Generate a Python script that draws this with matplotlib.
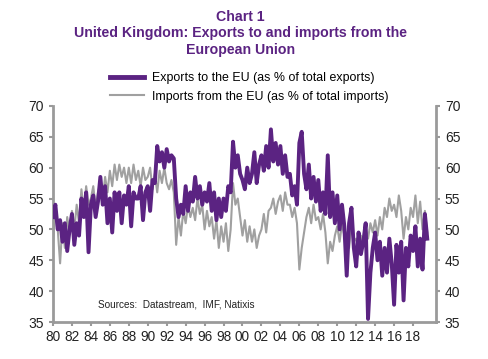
import matplotlib.pyplot as plt
import numpy as np

plt.rcParams['font.family'] = ['Liberation Sans', 'DejaVu Sans']

# quarterly readings, 1980 Q1 onwards
exports = [52, 54, 50, 51.5,  48, 51, 46.5, 50,  52.5, 47.5, 51, 49,  55, 52, 56, 46.3,
           54, 55.5, 52, 54.5,  58.5, 54, 57, 51,  55, 49.5, 56, 53,  56, 51, 55.5, 54,
           57, 50.5, 56, 55,  55, 57, 51.5, 56,  57, 53, 58, 57.5,  63.5, 61, 62.5, 60,
           63, 61, 62, 61.5,  55, 52, 54, 52.5,  57, 53, 56, 54.5,  58.5, 55, 57, 54,
           56, 54.5, 57.5, 53,  56, 51.5, 55, 52,  55, 53, 57, 56,  64.2, 60, 62, 59,
           58, 56.5, 60, 57.5,  59, 62.5, 57.5, 60.5,  62, 59.5, 63.5, 60,  66.2, 61, 64, 60.5,
           63.5, 59, 62, 58.5,  59, 55.5, 57, 54,  64, 65.8, 59, 56.5,  60.5, 55, 58.5, 54.5,
           58, 53, 56, 52.5,  62, 52, 56, 51,  55.5, 50, 54, 50.5,  42.5, 51, 53.5, 47,
           44, 49.5, 46, 48,  51, 35.5, 43, 47,  49.5, 45, 48, 42.5,  47, 43, 48.5, 44.5,
           37.8, 47.5, 43, 48,  38.5, 47, 44, 49,  46.5, 50.5, 44, 48.5,  43.5, 52.5, 48.5]

imports = [48, 53, 50, 44.5,  51, 47, 52, 49.5,  53, 50, 54, 51,  56.5, 53, 57, 54,
           55, 57, 53.5, 56,  57.5, 55, 58.5, 56,  59.5, 57, 60.5, 58,  60.5, 58.5, 60, 57.5,
           60, 57.5, 60.5, 58,  59.5, 57, 60, 58,  58.5, 60, 56.5, 59,  56, 59.5, 57.5, 60,
           57.5, 56.5, 58, 56,  47.5, 52, 49, 53,  51, 54, 52, 53.5,  51.5, 55, 52.5, 54,
           50, 53, 50.5, 52,  48.5, 51.5, 47, 50.5,  48, 51, 46.5, 50,  57.5, 54, 55, 52,
           49, 51.5, 48, 50.5,  48, 50, 47, 49,  50, 52.5, 49.5, 53,  53.5, 55, 52.5, 54.5,
           55.5, 53, 56, 54,  54, 52, 53.5, 51,  43.5, 47, 49.5, 52,  53.5, 51, 54, 51.5,
           52, 50, 52.5, 49.5,  44.5, 48, 46.5, 49,  50.5, 48, 51, 49,  49.5, 47, 51, 48,
           48.5, 47, 49, 47.5,  50, 48.5, 51, 49.5,  51.5, 49, 52, 50,  53.5, 52, 55, 53,
           54, 52, 55.5, 53,  48.5, 52, 50, 53.5,  52, 55.5, 51, 54.5,  50, 53, 49.5]

years = 1980 + np.arange(len(exports)) * 0.25
tick_years = np.arange(1980, 2019, 2)
tick_labels = ["%02d" % (y % 100) for y in tick_years]

purple = "#5b2382"
grey = "#a0a0a0"
axis_grey = "#9a9a9a"

fig = plt.figure(figsize=(4.88, 3.59), dpi=100)
ax = fig.add_axes([0.1086, 0.103, 0.7844, 0.602])

ax.plot(years, imports, color=grey, lw=1.5, label="Imports from the EU (as % of total imports)", zorder=2)
ax.plot(years, exports, color=purple, lw=2.8, label="Exports to the EU (as % of total exports)", zorder=3)

ax.set_xlim(1980, 2020.4)
ax.set_ylim(35, 70)
ax.set_yticks(range(35, 71, 5))
ax.set_xticks(tick_years)
ax.set_xticklabels(tick_labels)

ax2 = ax.twinx()
ax2.set_ylim(35, 70)
ax2.set_yticks(range(35, 71, 5))

for a in (ax, ax2):
    for s in a.spines.values():
        s.set_visible(False)
    a.tick_params(colors=axis_grey, labelcolor="#222222", labelsize=10, width=1.5, length=3)
ax.spines['left'].set_visible(True)
ax.spines['bottom'].set_visible(True)
ax2.spines['right'].set_visible(True)
for s in (ax.spines['left'], ax.spines['bottom'], ax2.spines['right']):
    s.set_color(axis_grey)
    s.set_linewidth(2)
ax.tick_params(axis='x', labelsize=9.8, pad=3)

ax.text(1984.75, 37.3, "Sources:  Datastream,  IMF, Natixis", fontsize=7.2, color="#222222")

fig.text(0.492, 0.953, "Chart 1", ha="center", va="center", fontsize=10.2, fontweight="bold", color=purple)
fig.text(0.492, 0.908, "United Kingdom: Exports to and imports from the", ha="center", va="center",
         fontsize=10.2, fontweight="bold", color=purple)
fig.text(0.492, 0.861, "European Union", ha="center", va="center", fontsize=10.2, fontweight="bold", color=purple)

h, l = ax.get_legend_handles_labels()
leg = fig.legend(h[::-1], l[::-1], loc="upper left", bbox_to_anchor=(0.215, 0.812), frameon=False,
                 fontsize=8.9, handlelength=2.8, handletextpad=0.6, labelspacing=0.5, borderaxespad=0)
leg.get_lines()[0].set_linewidth(3.5)

fig.savefig("out.png", dpi=100)
